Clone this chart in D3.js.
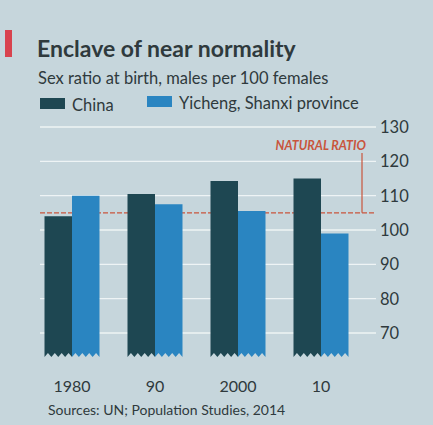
<!DOCTYPE html>
<html>
<head>
<meta charset="utf-8">
<script src="https://cdn.jsdelivr.net/npm/d3@7"></script>
<style>
  body { margin: 0; background: #c6d6dc; }
  svg { display: block; font-family: Lato, "Open Sans", sans-serif; }
</style>
</head>
<body>
<div id="chart"></div>
<script>
// data
var years = ['1980', '90', '2000', '10'];
var china = [104, 110.5, 114.3, 115];
var yicheng = [110, 107.5, 105.5, 99];
var seriesNames = ['China', 'Yicheng, Shanxi province'];
var ticks = [70, 80, 90, 100, 110, 120, 130];
var naturalRatio = 105;

var colors = {china: '#1e4752', yicheng: '#2a85c1', text: '#2f3a3d', red: '#c9553c'};

var W = 433, H = 425;
var svg = d3.select('#chart').append('svg')
  .attr('width', W)
  .attr('height', H);

svg.append('rect').attr('width', W).attr('height', H).attr('fill', '#c6d6dc');

// scales
var y = d3.scaleLinear().domain([70, 130]).range([333, 127]);
var x = d3.scaleBand().domain(years).range([30.5, 362.5]).padding(0);
var x1 = d3.scaleBand().domain(['china', 'yicheng']).range([0, 55]);
var base = y(63); // bars cut off below the axis

// title block
svg.append('rect').attr('x', 5).attr('y', 30).attr('width', 7).attr('height', 27).attr('fill', '#d8434e');
svg.append('text').attr('x', 37).attr('y', 57)
  .style('font-size', '23px').style('font-weight', 'bold').style('fill', colors.text)
  .text('Enclave of near normality');
svg.append('text').attr('x', 38).attr('y', 84)
  .style('font-size', '16.5px').style('fill', colors.text)
  .text('Sex ratio at birth, males per 100 females');

// legend
var legend = [{k: 'china', x: 40}, {k: 'yicheng', x: 147}];
legend.forEach(function(d, i) {
  svg.append('rect').attr('x', d.x).attr('y', 98 - i * 2).attr('width', 25).attr('height', 11)
    .attr('fill', colors[d.k]);
  svg.append('text').attr('x', d.x + 32).attr('y', 111 - i * 2)
    .style('font-size', '16.5px').style('fill', colors.text)
    .text(seriesNames[i]);
});

// gridlines
svg.selectAll('.grid').data(ticks).enter().append('line')
  .attr('class', 'grid')
  .attr('x1', 40).attr('x2', 376)
  .attr('y1', function(d) { return y(d); })
  .attr('y2', function(d) { return y(d); })
  .attr('stroke', '#eef4f5').attr('stroke-width', 1.3);

// tick labels
svg.selectAll('.tick').data(ticks).enter().append('text')
  .attr('class', 'tick')
  .attr('x', 380)
  .attr('y', function(d) { return y(d) + 6; })
  .style('font-size', '16.5px').style('fill', colors.text)
  .text(function(d) { return d; });

// natural ratio line
svg.append('line')
  .attr('x1', 40).attr('x2', 376)
  .attr('y1', y(naturalRatio)).attr('y2', y(naturalRatio))
  .attr('stroke', colors.red).attr('stroke-width', 1.2)
  .attr('stroke-dasharray', '5,2');
svg.append('line')
  .attr('x1', 362).attr('x2', 362)
  .attr('y1', 153).attr('y2', y(naturalRatio))
  .attr('stroke', colors.red).attr('stroke-width', 1.2);
svg.append('text').attr('x', 366).attr('y', 150)
  .attr('text-anchor', 'end')
  .style('font-size', '12.5px').style('font-style', 'italic').style('font-weight', 'bold')
  .style('fill', colors.red)
  .text('NATURAL RATIO');

// bar path with zigzag bottom
function barPath(x0, w, top) {
  var teeth = 4, tw = w / teeth, p = 'M' + x0 + ',' + top + 'H' + (x0 + w) + 'V' + base;
  for (var i = teeth - 1; i >= 0; i--) {
    p += 'L' + (x0 + i * tw + tw / 2) + ',' + (base - 4) + 'L' + (x0 + i * tw) + ',' + base;
  }
  return p + 'Z';
}

var groups = svg.selectAll('.year').data(years).enter().append('g')
  .attr('class', 'year')
  .attr('transform', function(d) { return 'translate(' + (x(d) + x.bandwidth() / 2 - 27.5) + ',0)'; });

groups.append('path')
  .attr('d', function(d, i) { return barPath(x1('china'), x1.bandwidth(), y(china[i])); })
  .attr('fill', colors.china);
groups.append('path')
  .attr('d', function(d, i) { return barPath(x1('yicheng'), x1.bandwidth(), y(yicheng[i])); })
  .attr('fill', colors.yicheng);

// category labels
svg.selectAll('.cat').data(years).enter().append('text')
  .attr('class', 'cat')
  .attr('x', function(d) { return x(d) + x.bandwidth() / 2; })
  .attr('y', 392)
  .attr('text-anchor', 'middle')
  .style('font-size', '16px').style('fill', colors.text)
  .text(function(d) { return d; });

// source
svg.append('text').attr('x', 48).attr('y', 415)
  .style('font-size', '14px').style('fill', colors.text)
  .text('Sources: UN; Population Studies, 2014');
</script>
</body>
</html>
